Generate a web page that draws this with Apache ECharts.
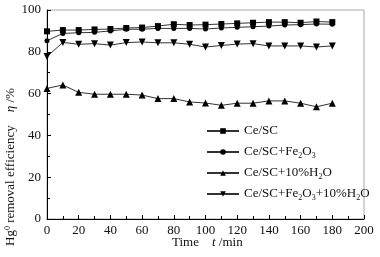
<!DOCTYPE html>
<html>
<head>
<meta charset="utf-8">
<script src="https://cdn.jsdelivr.net/npm/echarts@6/dist/echarts.min.js"></script>
<style>
  html, body { margin: 0; padding: 0; background: #fff; }
  #chart { width: 380px; height: 257px; }
</style>
</head>
<body>
<div id="chart"></div>
<script>
const times = [0, 10, 20, 30, 40, 50, 60, 70, 80, 90, 100, 110, 120, 130, 140, 150, 160, 170, 180]
const ceSC = [89.8, 90.4, 90.4, 90.7, 90.9, 91.4, 91.6, 92.3, 93.2, 92.8, 93.0, 93.3, 93.6, 93.9, 94.2, 94.2, 93.9, 94.5, 94.2]
const ceSCFe = [85.3, 88.8, 89.1, 89.3, 90.0, 90.8, 90.8, 91.2, 91.2, 91.2, 90.9, 91.4, 91.7, 92.0, 92.3, 92.8, 93.0, 93.3, 93.2]
const ceSCH2O = [62.5, 64.1, 60.6, 59.7, 59.7, 59.7, 59.3, 57.6, 57.6, 56.0, 55.5, 54.4, 55.4, 55.4, 56.5, 56.5, 55.4, 53.7, 55.4]
const ceSCFeH2O = [77.7, 84.5, 83.6, 83.9, 83.2, 84.4, 84.7, 84.3, 84.3, 83.6, 82.3, 83.0, 83.7, 83.9, 82.8, 82.8, 82.8, 82.3, 82.8]

const seriesNames = ['Ce/SC', 'Ce/SC+Fe2O3', 'Ce/SC+10%H2O', 'Ce/SC+Fe2O3+10%H2O']
const legendLabels = {
  'Ce/SC': 'Ce/SC',
  'Ce/SC+Fe2O3': 'Ce/SC+Fe{sub|2}O{sub|3}',
  'Ce/SC+10%H2O': 'Ce/SC+10%H{sub|2}O',
  'Ce/SC+Fe2O3+10%H2O': 'Ce/SC+Fe{sub|2}O{sub|3}+10%H{sub|2}O'
}

const font = 'Liberation Serif'
const chart = echarts.init(document.getElementById('chart'))

function makeSeries(name, values, symbol, size, rotate) {
  return {
    name,
    type: 'line',
    data: times.map((t, i) => [t, values[i]]),
    symbol,
    symbolSize: size,
    symbolRotate: rotate || 0,
    showAllSymbol: true,
    lineStyle: { color: '#333', width: 1 },
    itemStyle: { color: '#000' },
    emphasis: { disabled: true },
    animation: false
  }
}

chart.setOption({
  animation: false,
  grid: { left: 47, right: 16, top: 10, bottom: 38, show: true, borderColor: '#aaa', borderWidth: 1 },
  legend: {
    orient: 'vertical',
    left: 201,
    top: 118,
    itemWidth: 32,
    itemHeight: 7,
    itemGap: 5,
    data: seriesNames,
    formatter: (n) => legendLabels[n],
    textStyle: {
      fontFamily: font, fontSize: 13, color: '#111', lineHeight: 16,
      rich: { sub: { fontFamily: font, fontSize: 8, color: '#111', verticalAlign: 'bottom', padding: [6, 0, 0, 0] } }
    }
  },
  xAxis: {
    type: 'value', min: 0, max: 200, interval: 20,
    axisLine: { lineStyle: { color: '#000' } },
    axisTick: { inside: true, length: 4, lineStyle: { color: '#000' } },
    minorTick: { show: true, splitNumber: 2, length: 3, lineStyle: { color: '#000' } },
    splitLine: { show: false },
    axisLabel: { fontFamily: font, fontSize: 13, color: '#111', margin: 5 }
  },
  yAxis: {
    type: 'value', min: 0, max: 100, interval: 20,
    axisLine: { show: true, lineStyle: { color: '#000' } },
    axisTick: { show: true, inside: true, length: 4, lineStyle: { color: '#000' } },
    minorTick: { show: true, splitNumber: 2, length: 3, lineStyle: { color: '#000' } },
    splitLine: { show: false },
    axisLabel: { fontFamily: font, fontSize: 13, color: '#111', margin: 6 }
  },
  graphic: [
    {
      type: 'text', left: 172, top: 236,
      style: {
        text: 'Time    {i|t} /min', fontFamily: font, fontSize: 13, fill: '#111',
        rich: { i: { fontFamily: font, fontStyle: 'italic', fontSize: 13, fill: '#111' } }
      }
    },
    {
      type: 'text', x: 4, y: 246, rotation: Math.PI / 2,
      style: {
        text: 'Hg{sup|0} removal efficiency    {i|η} /%', fontFamily: font, fontSize: 13, fill: '#111',
        rich: {
          sup: { fontFamily: font, fontSize: 8, fill: '#111', verticalAlign: 'top', padding: [0, 0, 6, 0] },
          i: { fontFamily: font, fontStyle: 'italic', fontSize: 13, fill: '#111' }
        }
      }
    }
  ],
  series: [
    makeSeries('Ce/SC', ceSC, 'rect', 6),
    makeSeries('Ce/SC+Fe2O3', ceSCFe, 'circle', 5),
    makeSeries('Ce/SC+10%H2O', ceSCH2O, 'triangle', 7),
    makeSeries('Ce/SC+Fe2O3+10%H2O', ceSCFeH2O, 'triangle', 7, 180)
  ]
})
</script>
</body>
</html>
